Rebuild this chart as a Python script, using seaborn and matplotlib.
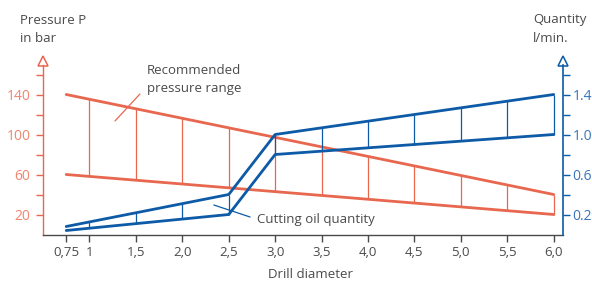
import numpy as np
import pandas as pd
import matplotlib
matplotlib.use("Agg")
import matplotlib.pyplot as plt
import matplotlib.transforms as mtransforms
import seaborn as sns

# ---- data ----
x_ticks = [0.75, 1, 1.5, 2.0, 2.5, 3.0, 3.5, 4.0, 4.5, 5.0, 5.5, 6.0]
x_tick_labels = ["0,75", "1", "1,5", "2,0", "2,5", "3,0", "3,5", "4,0", "4,5", "5,0", "5,5", "6,0"]

# recommended pressure range (bar)
pressure_x = [0.75, 6.0]
pressure_hi = [140, 40]
pressure_lo = [60, 20]
pressure_rungs = [1, 1.5, 2.0, 2.5, 3.0, 3.5, 4.0, 4.5, 5.0, 5.5, 6.0]

# cutting oil quantity (l/min)
oil_x = [0.75, 2.5, 3.0, 6.0]
oil_hi = [0.08, 0.40, 1.00, 1.40]
oil_lo = [0.04, 0.20, 0.80, 1.00]
oil_rungs = [1, 1.5, 2.0, 2.5, 3.0, 3.5, 4.0, 4.5, 5.0, 5.5, 6.0]

left_major = [20, 60, 100, 140]
left_minor = [40, 80, 120, 160]
right_major = [0.2, 0.6, 1.0, 1.4]
right_labels = ["0.2", "0.6", "1.0", "1.4"]
right_minor = [0.4, 0.8, 1.2, 1.6]

RED = "#e8674f"
RED_TXT = "#ef8670"
BLUE = "#0d5aa7"
BLUE_TXT = "#3a74b8"
GRAY = "#4a4a4a"

sns.set_theme(style="white")
plt.rcParams["font.family"] = ["Open Sans", "DejaVu Sans"]

fig = plt.figure(figsize=(5.92, 2.84), dpi=100)
ax = fig.add_axes([43 / 592, 49.5 / 284, 520 / 592, 170 / 284])
ax2 = ax.twinx()

df_p = pd.DataFrame({"x": pressure_x * 2,
                     "y": pressure_hi + pressure_lo,
                     "s": ["hi"] * len(pressure_x) + ["lo"] * len(pressure_x)})
sns.lineplot(data=df_p, x="x", y="y", units="s", estimator=None, ax=ax,
             color=RED, linewidth=2.0, legend=False)
ax.vlines(pressure_rungs,
          np.interp(pressure_rungs, pressure_x, pressure_lo),
          np.interp(pressure_rungs, pressure_x, pressure_hi),
          color=RED, linewidth=0.9)

df_o = pd.DataFrame({"x": oil_x * 2,
                     "y": oil_hi + oil_lo,
                     "s": ["hi"] * len(oil_x) + ["lo"] * len(oil_x)})
sns.lineplot(data=df_o, x="x", y="y", units="s", estimator=None, ax=ax2,
             color=BLUE, linewidth=2.0, legend=False)
ax2.vlines(oil_rungs,
           np.interp(oil_rungs, oil_x, oil_lo),
           np.interp(oil_rungs, oil_x, oil_hi),
           color=BLUE, linewidth=0.9)

ax.set_xlim(0.5, 6.1)
ax.set_ylim(0, 170)
ax2.set_ylim(0, 1.70)

for a in (ax, ax2):
    a.set_xlabel("")
    a.set_ylabel("")
    a.spines["top"].set_visible(False)

ax.spines["right"].set_visible(False)
ax2.spines["left"].set_visible(False)
ax2.spines["bottom"].set_visible(False)
ax.spines["left"].set_color(RED)
ax.spines["left"].set_linewidth(1.0)
ax2.spines["right"].set_color(BLUE)
ax2.spines["right"].set_linewidth(1.2)
ax.spines["bottom"].set_color(GRAY)
ax.spines["bottom"].set_linewidth(1.0)

ax.set_xticks(x_ticks)
ax.set_xticklabels(x_tick_labels)
ax.tick_params(axis="x", bottom=True, direction="out", length=5, width=1,
               color=GRAY, labelcolor=GRAY, labelsize=9.5, pad=3)

ax.set_yticks(left_major)
ax.set_yticks(left_minor, minor=True)
ax.set_yticklabels([str(v) for v in left_major])
ax.tick_params(axis="y", which="both", left=True, direction="out", length=5,
               width=1, color=RED, labelcolor=RED_TXT, labelsize=10, pad=4)

ax2.set_yticks(right_major)
ax2.set_yticks(right_minor, minor=True)
ax2.set_yticklabels(right_labels)
ax2.tick_params(axis="y", which="both", right=True, direction="out", length=5,
                width=1, color=BLUE, labelcolor=BLUE_TXT, labelsize=10, pad=2)

# arrow heads on the y spines
off = mtransforms.offset_copy(ax.transAxes, fig=fig, x=0, y=3.5, units="dots")
ax.plot([0], [1], marker="^", markersize=7, mfc="white", mec=RED, mew=1.1,
        transform=off, clip_on=False)
off2 = mtransforms.offset_copy(ax2.transAxes, fig=fig, x=0, y=3.5, units="dots")
ax2.plot([1], [1], marker="^", markersize=7, mfc="white", mec=BLUE, mew=1.1,
         transform=off2, clip_on=False)

# annotations
ax.plot([1.275, 1.544], [113.5, 140.5], color=RED, linewidth=0.9)
ax.text(1.62, 155, "Recommended\npressure range", fontsize=9.5, color=GRAY,
        va="center", ha="left", linespacing=1.45)
ax.plot([2.34, 2.73], [29.5, 17.5], color=BLUE, linewidth=0.9)
ax.text(2.80, 14.5, "Cutting oil quantity", fontsize=9.5, color=GRAY,
        va="center", ha="left")

fig.text(20 / 592, 1 - 29 / 284, "Pressure P\nin bar", fontsize=9.5, color=GRAY,
         va="center", ha="left", linespacing=1.5)
fig.text(533 / 592, 1 - 29 / 284, "Quantity\nl/min.", fontsize=9.5, color=GRAY,
         va="center", ha="left", linespacing=1.5)
fig.text(310 / 592, 1 - 274 / 284, "Drill diameter", fontsize=9.5, color=GRAY,
         va="center", ha="center")

fig.savefig("out.png", dpi=100)
